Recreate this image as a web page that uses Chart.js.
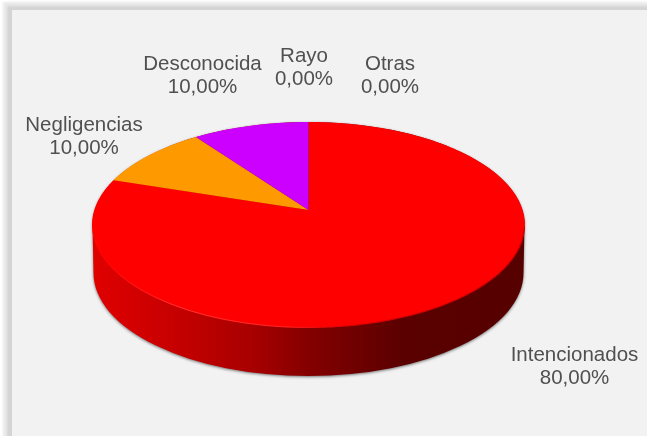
<!DOCTYPE html>
<html><head><meta charset="utf-8">
<style>html,body{margin:0;padding:0;background:#fff;overflow:hidden}canvas{display:block}</style>
<script src="https://cdn.jsdelivr.net/npm/chart.js@4"></script>
</head><body><canvas id="c" width="647" height="436"></canvas>
<script>
const categories = ['Intencionados','Negligencias','Desconocida','Rayo','Otras'];
const percentages = [80, 10, 10, 0, 0];
const sliceColors = ['#ff0000','#ff9900','#cc00ff','#4472c4','#70ad47'];
const percentLabels = ['80,00%','10,00%','10,00%','0,00%','0,00%'];
const labelCentres = [[574.5,355],[84,125],[202.5,64],[304,56],[390,64]];

const FACE = {cx:308.5, cy:225, rx:216.5, ry:103, tilt:-0.146, depth:48};
function project(angle){
  const u = Math.cos(angle), v = Math.sin(angle), a = FACE.tilt, d = 1 + a*v;
  return [FACE.cx + FACE.rx*u*Math.sqrt(1-a*a)/d, FACE.cy + FACE.ry*(v+a)/d];
}
const Arc = Chart.ArcElement;
Arc.prototype.draw = function(ctx){
  const s = this.startAngle, e = this.endAngle;
  if (e - s <= 0) return;
  const apex = [FACE.cx, FACE.cy + FACE.ry*FACE.tilt];
  ctx.save();
  ctx.beginPath();
  ctx.moveTo(apex[0], apex[1]);
  const n = Math.ceil((e-s)/0.01);
  for (let i=0;i<=n;i++){const p = project(s+(e-s)*i/n); ctx.lineTo(p[0],p[1]);}
  ctx.closePath();
  ctx.fillStyle = this.options.backgroundColor;
  ctx.fill();
  ctx.restore();
};
const framePlugin = {
  id:'frame',
  beforeDraw(chart){
    const c = chart.ctx;
    c.save();
    c.fillStyle='#ffffff'; c.fillRect(0,0,647,436);
    c.filter='blur(1px)';
    c.fillStyle='#e9e9e9'; c.fillRect(3,2,660,450);
    c.fillStyle='#d4d4d4'; c.fillRect(7,6,660,450);
    c.filter='none';
    c.fillStyle='#f2f2f2'; c.fillRect(12,10,640,430);
    c.restore();
  },
  beforeDatasetsDraw(chart){
    const c = chart.ctx, f = FACE;
    c.save();
    const g = c.createLinearGradient(f.cx-f.rx,0,f.cx+f.rx,0);
    g.addColorStop(0,'#e00000'); g.addColorStop(.18,'#c80000'); g.addColorStop(.37,'#a80000');
    g.addColorStop(.5,'#840000'); g.addColorStop(.72,'#5a0000'); g.addColorStop(1,'#560000');
    c.shadowColor='rgba(70,70,70,.75)'; c.shadowBlur=3; c.shadowOffsetX=0; c.shadowOffsetY=1;
    c.beginPath();
    c.ellipse(f.cx,f.cy,f.rx-.5,f.ry,0,Math.PI,0,false);
    c.ellipse(f.cx,f.cy+f.depth,f.rx-1.5,f.ry,0,0,Math.PI,false);
    c.closePath();
    c.fillStyle=g; c.fill();
    c.restore();
  },
  afterDatasetsDraw(chart){
    const c = chart.ctx, f = FACE;
    c.save();
    const g = c.createLinearGradient(f.cx-f.rx,0,f.cx+f.rx,0);
    g.addColorStop(0,'rgba(255,70,70,.0)'); g.addColorStop(.2,'rgba(255,70,70,.7)');
    g.addColorStop(.45,'rgba(255,70,70,.5)'); g.addColorStop(.6,'rgba(120,0,0,.3)'); g.addColorStop(1,'rgba(120,0,0,.5)');
    c.strokeStyle=g; c.lineWidth=1;
    c.beginPath(); c.ellipse(f.cx,f.cy,f.rx-.5,f.ry-.5,0,0.02,Math.PI-0.02,false); c.stroke();
    c.fillStyle='#505050'; c.textAlign='center'; c.textBaseline='middle';
    c.font='20.5px "Liberation Sans"';
    categories.forEach((name,i)=>{
      const [x,y] = labelCentres[i];
      c.fillText(name,x,y);
      c.fillText(percentLabels[i],x,y+23);
    });
    c.restore();
  }
};
new Chart(document.getElementById('c'),{
  type:'pie',
  data:{labels:categories,datasets:[{data:percentages,backgroundColor:sliceColors,borderWidth:0}]},
  options:{responsive:false,animation:false,plugins:{legend:{display:false},tooltip:{enabled:false}}},
  plugins:[framePlugin]
});
</script></body></html>
